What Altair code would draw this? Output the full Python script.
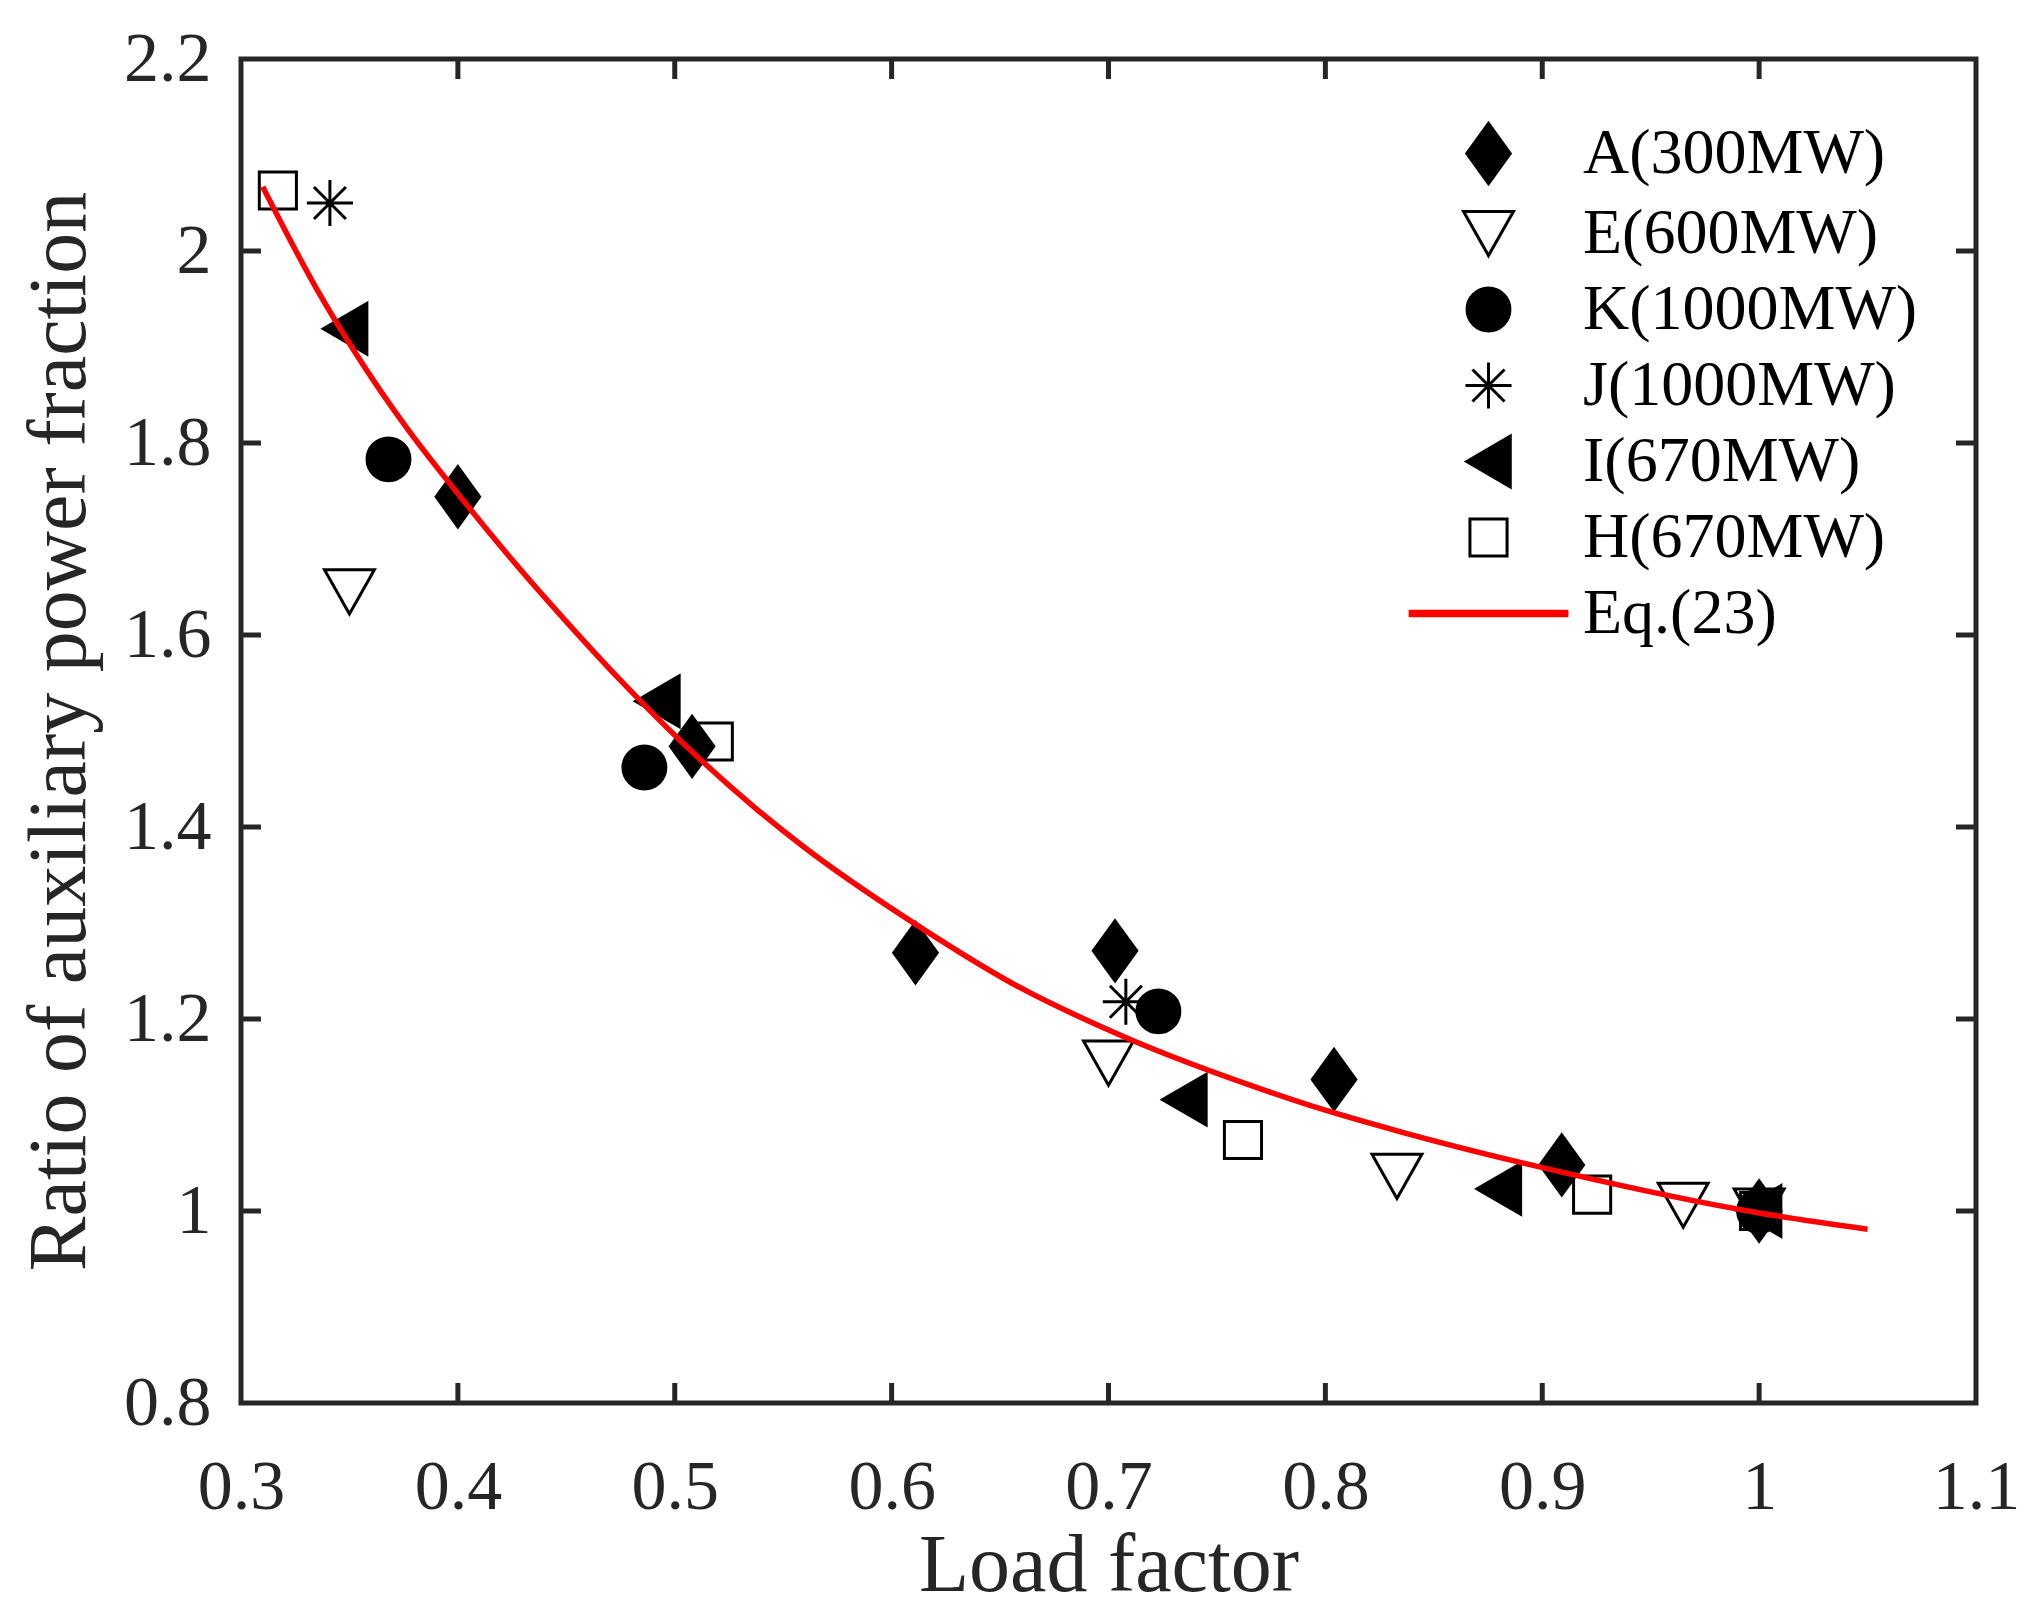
import altair as alt
import pandas as pd

# ---- data ----
series_names = ["A(300MW)", "E(600MW)", "K(1000MW)", "J(1000MW)", "I(670MW)", "H(670MW)"]
curve_name = "Eq.(23)"

A_x = [0.400, 0.508, 0.611, 0.703, 0.804, 0.909, 1.000]
A_y = [1.744, 1.484, 1.269, 1.271, 1.137, 1.048, 1.000]
E_x = [0.350, 0.700, 0.833, 0.965, 1.000]
E_y = [1.645, 1.154, 1.036, 1.006, 1.000]
K_x = [0.368, 0.486, 0.723, 1.000]
K_y = [1.783, 1.462, 1.208, 1.000]
J_x = [0.341, 0.708, 1.000]
J_y = [2.050, 1.218, 1.000]
I_x = [0.348, 0.492, 0.735, 0.880, 1.000]
I_y = [1.919, 1.531, 1.116, 1.023, 1.000]
H_x = [0.317, 0.518, 0.762, 0.923, 1.000]
H_y = [2.063, 1.489, 1.074, 1.017, 1.000]

curve_x = [0.310, 0.335, 0.353, 0.376, 0.399, 0.424, 0.450, 0.477, 0.503, 0.537,
           0.5585, 0.6115, 0.6557, 0.7087, 0.7705, 0.800, 0.8355, 0.908, 1.000, 1.050]
curve_y = [2.067, 1.960, 1.893, 1.817, 1.750, 1.681, 1.614, 1.548, 1.489, 1.420,
           1.381, 1.298, 1.237, 1.180, 1.127, 1.105, 1.082, 1.041, 0.998, 0.981]

x_ticks = [0.3, 0.4, 0.5, 0.6, 0.7, 0.8, 0.9, 1.0, 1.1]
y_ticks = [0.8, 1.0, 1.2, 1.4, 1.6, 1.8, 2.0, 2.2]
x_inner = [0.4, 0.5, 0.6, 0.7, 0.8, 0.9, 1.0]
y_inner = [1.0, 1.2, 1.4, 1.6, 1.8, 2.0]

# ---- tables ----
rows = []
for name, xs, ys in zip(series_names,
                        [A_x, E_x, K_x, J_x, I_x, H_x],
                        [A_y, E_y, K_y, J_y, I_y, H_y]):
    for xv, yv in zip(xs, ys):
        rows.append({"x": xv, "y": yv, "series": name})
pts = pd.DataFrame(rows)
curve = pd.DataFrame({"x": curve_x, "y": curve_y})
xt = pd.DataFrame({"x": x_inner})
yt = pd.DataFrame({"y": y_inner})

# ---- style ----
FONT = "Liberation Serif"
AX = "#262626"
W, H = 1735, 1344
TICK = 20

shapes = [
    "M0,-0.94L0.68,0L0,0.94L-0.68,0Z",                                   # diamond
    "M-0.78,-0.69L0.78,-0.69L0,0.69Z",                                   # down triangle
    "M0.67,0A0.67,0.67,0,1,1,-0.67,0A0.67,0.67,0,1,1,0.67,0Z",           # circle
    "M0,-0.72L0,0.72M-0.72,0L0.72,0M-0.5,-0.5L0.5,0.5M-0.5,0.5L0.5,-0.5",  # asterisk
    "M-0.68,0L0.68,-0.79L0.68,0.79Z",                                    # left triangle
    "M-0.58,-0.58H0.58V0.58H-0.58Z",                                     # square
    "M-2.45,-0.07H2.45V0.07H-2.45Z",                                     # line (legend)
]
fills = ["#000000", "transparent", "#000000", "transparent", "#000000", "transparent", "#FF0000"]
strokes = ["#000000", "#000000", "#000000", "#000000", "#000000", "#000000", "#FF0000"]
domain = series_names + [curve_name]

x_scale = alt.Scale(domain=[0.3, 1.1], nice=False, zero=False)
y_scale = alt.Scale(domain=[0.8, 2.2], nice=False, zero=False)

x_axis = alt.Axis(values=x_ticks, format="~g", title="Load factor", domain=False,
                  ticks=False, tickSize=0, grid=False, labelFont=FONT, labelFontSize=70,
                  labelColor=AX, labelPadding=50, labelFlush=False, labelOverlap=False,
                  titleFont=FONT, titleFontSize=82, titleColor=AX, titleFontWeight="normal",
                  titleBaseline="alphabetic", titleY=187)
y_axis = alt.Axis(values=y_ticks, format="~g", title="Ratio of auxiliary power fraction",
                  domain=False, ticks=False, tickSize=0, grid=False, labelFont=FONT,
                  labelFontSize=70, labelColor=AX, labelPadding=30, labelFlush=False,
                  labelOverlap=False, titleFont=FONT, titleFontSize=82, titleColor=AX,
                  titleFontWeight="normal", titleBaseline="alphabetic", titleAngle=270,
                  titleX=-157, titleY=H / 2, titleAlign="center")

leg = alt.Legend(title=None, orient="none", legendX=1214, legendY=61, symbolSize=4096,
                 symbolStrokeWidth=3, labelFont=FONT, labelFontSize=64, labelColor="#000000",
                 labelOffset=61, rowPadding=10, padding=0, labelLimit=2000)

points = alt.Chart(pts).mark_point(opacity=1, strokeWidth=3, size=4096).encode(
    x=alt.X("x:Q", scale=x_scale, axis=x_axis),
    y=alt.Y("y:Q", scale=y_scale, axis=y_axis),
    shape=alt.Shape("series:N", scale=alt.Scale(domain=domain, range=shapes), legend=leg),
    fill=alt.Fill("series:N", scale=alt.Scale(domain=domain, range=fills), legend=leg),
    stroke=alt.Stroke("series:N", scale=alt.Scale(domain=domain, range=strokes), legend=leg),
)

line = alt.Chart(curve).mark_line(color="#FF0000", strokeWidth=5.5, interpolate="monotone").encode(
    x=alt.X("x:Q", scale=x_scale, axis=x_axis),
    y=alt.Y("y:Q", scale=y_scale, axis=y_axis),
)

tb = alt.Chart(xt).mark_rule(color=AX, strokeWidth=5).encode(
    x=alt.X("x:Q", scale=x_scale, axis=x_axis), y=alt.value(H), y2=alt.value(H - TICK))
tt = alt.Chart(xt).mark_rule(color=AX, strokeWidth=5).encode(
    x=alt.X("x:Q", scale=x_scale, axis=x_axis), y=alt.value(0), y2=alt.value(TICK))
tl = alt.Chart(yt).mark_rule(color=AX, strokeWidth=5).encode(
    y=alt.Y("y:Q", scale=y_scale, axis=y_axis), x=alt.value(0), x2=alt.value(TICK))
tr = alt.Chart(yt).mark_rule(color=AX, strokeWidth=5).encode(
    y=alt.Y("y:Q", scale=y_scale, axis=y_axis), x=alt.value(W), x2=alt.value(W - TICK))

chart = alt.layer(tb, tt, tl, tr, points, line).properties(
    width=W, height=H,
    autosize=alt.AutoSizeParams(type="none"),
    padding={"left": 233, "top": 51, "right": 2036 - 16 - 233 - W, "bottom": 1621 - 16 - 51 - H},
    background="white",
).configure_view(stroke=AX, strokeWidth=5)

chart.save("out.html", embed_options={"renderer": "svg", "actions": False})
